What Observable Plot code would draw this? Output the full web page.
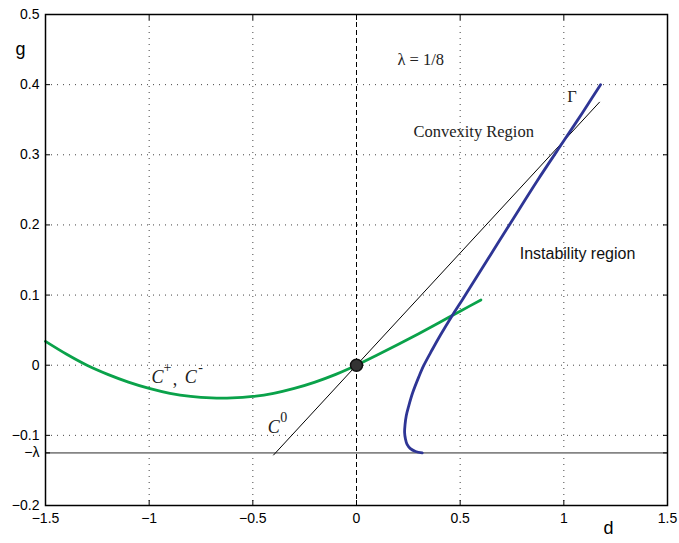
<!DOCTYPE html>
<html>
<head>
<meta charset="utf-8">
<script src="https://cdn.jsdelivr.net/npm/d3@7"></script>
<script src="https://cdn.jsdelivr.net/npm/@observablehq/plot@0.6"></script>
<style>
  html, body { margin: 0; padding: 0; background: #fff; }
  #chart svg { font-family: "Liberation Sans", Arial, sans-serif; }
</style>
</head>
<body>
<div id="chart"></div>
<script>
// Curve C+, C- (green)
const greenD = [-1.5, -1.4, -1.3, -1.2, -1.1, -1.0, -0.9, -0.8, -0.7, -0.6, -0.5, -0.4, -0.3, -0.2, -0.1, 0, 0.1, 0.2, 0.3, 0.4, 0.5, 0.6];
const greenG = [0.034, 0.016, 0.000, -0.013, -0.024, -0.033, -0.040, -0.0445, -0.0467, -0.0467, -0.0445, -0.040, -0.033, -0.024, -0.013, 0, 0.0145, 0.0295, 0.045, 0.061, 0.077, 0.093];
// Gamma curve (blue)
const blueD = [0.317, 0.285, 0.260, 0.244, 0.236, 0.232, 0.234, 0.240, 0.252, 0.270, 0.300, 0.325, 0.365, 0.405, 0.462, 0.510, 0.550, 0.650, 0.750, 0.872, 1.000, 1.090, 1.177];
const blueG = [-0.125, -0.123, -0.119, -0.113, -0.105, -0.096, -0.085, -0.072, -0.058, -0.040, -0.017, 0.000, 0.022, 0.043, 0.071, 0.093, 0.112, 0.159, 0.206, 0.263, 0.320, 0.360, 0.400];
// C0 line (black)
const lineD = [-0.40, 1.172];
const lineG = [-0.128, 0.375];
// lambda level
const lambda = 1 / 8;
// origin point
const originD = [0];
const originG = [0];
// ticks
const xTicks = [-1.5, -1, -0.5, 0, 0.5, 1, 1.5];
const yTicks = [-0.2, -0.125, -0.1, 0, 0.1, 0.2, 0.3, 0.4, 0.5];
const xTickLabels = ["\u22121.5", "\u22121", "\u22120.5", "0", "0.5", "1", "1.5"];
const yTickLabels = ["\u22120.2", "\u2212\u03bb", "\u22120.1", "0", "0.1", "0.2", "0.3", "0.4", "0.5"];
const xGrid = [-1, -0.5, 0.5, 1];
const yGrid = [-0.1, 0, 0.1, 0.2, 0.3, 0.4];

const green = greenD.map((d, i) => ({d, g: greenG[i]}));
const blue = blueD.map((d, i) => ({d, g: blueG[i]}));
const cline = lineD.map((d, i) => ({d, g: lineG[i]}));
const origin = originD.map((d, i) => ({d, g: originG[i]}));

const serif = "Liberation Serif, Times New Roman, serif";
const serifLabels = [
  {d: 0.31, g: 0.436, t: "\u03bb = 1/8"},
  {d: 0.565, g: 0.333, t: "Convexity Region"},
  {d: 1.04, g: 0.383, t: "\u0393"}
];
// italic curve names: base letter and superscript
const curveNames = [
  {d: -0.96, g: -0.0165, t: "C", sup: "+"},
  {d: -0.80, g: -0.0165, t: "C", sup: "-"},
  {d: -0.399, g: -0.088, t: "C", sup: "0"}
];
const commas = [{d: -0.876, g: -0.020, t: ","}];

const chart = Plot.plot({
  width: 679,
  height: 543,
  marginLeft: 45,
  marginRight: 12,
  marginTop: 14,
  marginBottom: 38,
  style: {fontSize: "14px", fontFamily: "Liberation Sans, Arial, sans-serif", color: "#000"},
  x: {domain: [-1.5, 1.5]},
  y: {domain: [-0.2, 0.5]},
  marks: [
    Plot.gridX(xGrid, {stroke: "#444", strokeOpacity: 1, strokeDasharray: "1,5"}),
    Plot.gridY(yGrid, {stroke: "#444", strokeOpacity: 1, strokeDasharray: "1,5"}),
    Plot.ruleY([-lambda], {stroke: "#858585", strokeWidth: 1.6}),
    Plot.ruleX([0], {stroke: "#000", strokeWidth: 1, strokeDasharray: "5,3"}),
    Plot.line(cline, {x: "d", y: "g", stroke: "#000", strokeWidth: 1}),
    Plot.line(green, {x: "d", y: "g", stroke: "#0aa24a", strokeWidth: 2.8, curve: "catmull-rom"}),
    Plot.line(blue, {x: "d", y: "g", stroke: "#2e3595", strokeWidth: 2.8, curve: "catmull-rom"}),
    Plot.dot(origin, {x: "d", y: "g", r: 6, fill: "#333", stroke: "#111"}),
    Plot.text(serifLabels, {x: "d", y: "g", text: "t", fontFamily: serif, fontSize: 16.5, fill: "#222"}),
    Plot.text(curveNames, {x: "d", y: "g", text: "t", fontFamily: serif, fontStyle: "italic", fontSize: 18, fill: "#222"}),
    Plot.text(curveNames, {x: "d", y: "g", text: "sup", fontFamily: serif, fontSize: 14, dx: 10, dy: -9, fill: "#222"}),
    Plot.text(commas, {x: "d", y: "g", text: "t", fontFamily: serif, fontSize: 18, fill: "#222"}),
    Plot.text(["Instability region"], {x: 1.066, y: 0.159, text: d => d, fontSize: 16, fill: "#111"}),
    Plot.axisX(xTicks, {anchor: "bottom", tickSize: -5, tickPadding: 13, tickFormat: (d, i) => xTickLabels[i], label: null, fontSize: 14}),
    Plot.axisX(xTicks, {anchor: "top", tickSize: -5, tickFormat: () => "", label: null}),
    Plot.axisY(yTicks, {anchor: "left", tickSize: -5, tickPadding: 11, tickFormat: (d, i) => yTickLabels[i], label: null, fontSize: 14}),
    Plot.axisY(yTicks, {anchor: "right", tickSize: -5, tickFormat: () => "", label: null}),
    Plot.frame({stroke: "#000", strokeWidth: 1.5}),
    Plot.text(["g"], {frameAnchor: "top-left", dx: -30, dy: 28, text: d => d, fontSize: 18}),
    Plot.text(["d"], {frameAnchor: "bottom-right", dx: -54, dy: 28, text: d => d, fontSize: 18})
  ]
});
document.getElementById("chart").appendChild(chart);
</script>
</body>
</html>
